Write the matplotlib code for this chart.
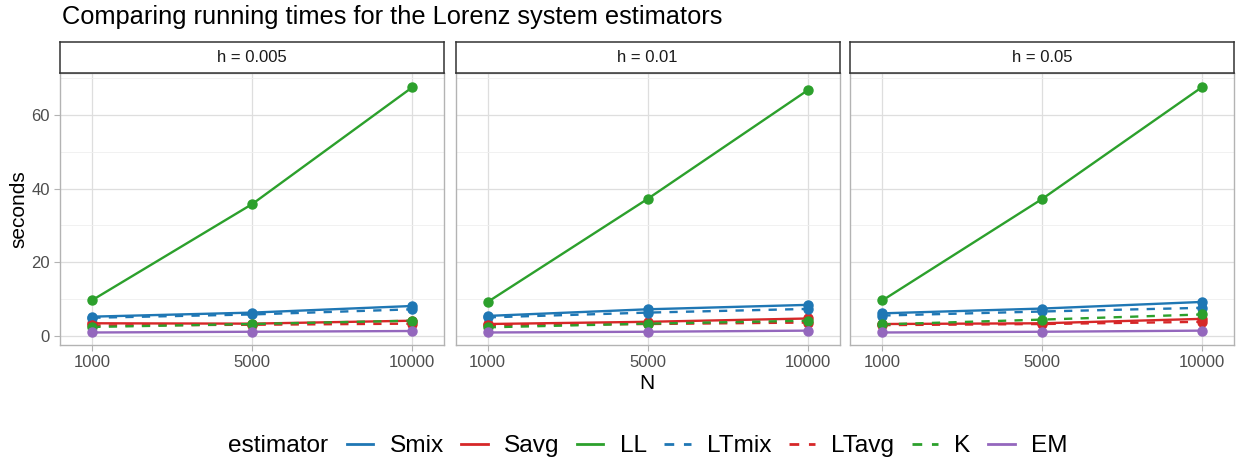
import matplotlib.pyplot as plt
from matplotlib.lines import Line2D

plt.rcParams['font.family'] = ['Liberation Sans', 'DejaVu Sans']

# x is treated as a discrete axis (equally spaced)
n_labels = ["1000", "5000", "10000"]
h_labels = ["h = 0.005", "h = 0.01", "h = 0.05"]

# seconds per panel (h), per N
smix = [[5.2, 6.3, 8.1], [5.4, 7.2, 8.4], [6.1, 7.4, 9.2]]
savg = [[3.4, 3.3, 4.1], [3.2, 3.8, 4.7], [3.2, 3.4, 4.6]]
ll = [[9.7, 35.8, 67.5], [9.2, 37.2, 66.7], [9.6, 37.2, 67.6]]
ltmix = [[4.9, 5.8, 7.2], [5.0, 6.3, 7.3], [5.5, 6.6, 7.6]]
ltavg = [[2.8, 3.0, 3.3], [2.9, 3.2, 3.6], [2.9, 3.2, 3.8]]
k_est = [[2.4, 3.2, 4.1], [2.3, 3.3, 4.1], [3.1, 4.4, 5.8]]
em = [[0.9, 1.1, 1.3], [0.9, 1.1, 1.4], [0.9, 1.1, 1.4]]

dash = (0, (3.5, 3.5))
series = [
    ("Smix", smix, "#1f77b4", "-"),
    ("Savg", savg, "#d62728", "-"),
    ("LL", ll, "#2ca02c", "-"),
    ("LTmix", ltmix, "#1f77b4", dash),
    ("LTavg", ltavg, "#d62728", dash),
    ("K", k_est, "#2ca02c", dash),
    ("EM", em, "#9467bd", "-"),
]

W, H = 1242, 461
fig = plt.figure(figsize=(W / 100, H / 100), dpi=100)

panel_lefts = [60.3, 455.7, 850.3]
panel_w = 384
top, bottom = 73.3, 345
strip_top = 41.7

xs = list(range(len(n_labels)))
axes = []
for p, left in enumerate(panel_lefts):
    ax = fig.add_axes([left / W, 1 - bottom / H, panel_w / W, (bottom - top) / H])
    axes.append(ax)
    for name, vals, col, ls in series:
        ax.plot(xs, vals[p], color=col, linestyle=ls, lw=1.7, zorder=3)
    for name, vals, col, ls in series:
        ax.plot(xs, vals[p], "o", color=col, ms=6.5, mec=col, zorder=4, linestyle="none")
    ax.set_xlim(-0.2, 2.2)
    ax.set_ylim(-2.5, 71.3)
    ax.set_xticks(xs)
    ax.set_xticklabels(n_labels)
    ax.set_yticks([0, 20, 40, 60])
    ax.set_yticks([10, 30, 50, 70], minor=True)
    ax.grid(True, which="major", color="#dedede", lw=0.9, zorder=0)
    ax.grid(True, which="minor", axis="y", color="#efefef", lw=0.6, zorder=0)
    ax.tick_params(axis="both", which="major", colors="#b3b3b3", labelcolor="#4d4d4d",
                   labelsize=12, length=4, width=0.8)
    ax.tick_params(axis="y", which="minor", length=0)
    for s in ax.spines.values():
        s.set_color("#b3b3b3")
        s.set_linewidth(1.0)
    if p > 0:
        ax.tick_params(axis="y", labelleft=False, length=0)

    # facet strip
    sax = fig.add_axes([left / W, 1 - top / H, panel_w / W, (top - strip_top) / H])
    sax.set_xticks([])
    sax.set_yticks([])
    for s in sax.spines.values():
        s.set_color("#333333")
        s.set_linewidth(1.1)
    sax.text(0.5, 0.5, h_labels[p], ha="center", va="center", fontsize=12,
             color="#1a1a1a", transform=sax.transAxes)

axes[0].set_ylabel("seconds", fontsize=15, labelpad=2)
fig.text(647 / W, 1 - 383 / H, "N", ha="center", va="center", fontsize=15)
fig.text(62 / W, 1 - 17 / H, "Comparing running times for the Lorenz system estimators",
         ha="left", va="center", fontsize=18.25)

# legend at the bottom, title on the left
fig.text(228 / W, 1 - 446 / H, "estimator", ha="left", va="center", fontsize=17.6)
handles = [Line2D([0], [0], color=col, linestyle=ls, lw=2) for _, _, col, ls in series]
labels = [name for name, _, _, _ in series]
fig.legend(handles, labels, loc="center left", bbox_to_anchor=(347 / W, 1 - 446 / H),
           ncol=7, frameon=False, fontsize=17.6, handlelength=1.08, handletextpad=0.66,
           columnspacing=0.72, borderaxespad=0, borderpad=0)

fig.savefig("out.png", dpi=100)
